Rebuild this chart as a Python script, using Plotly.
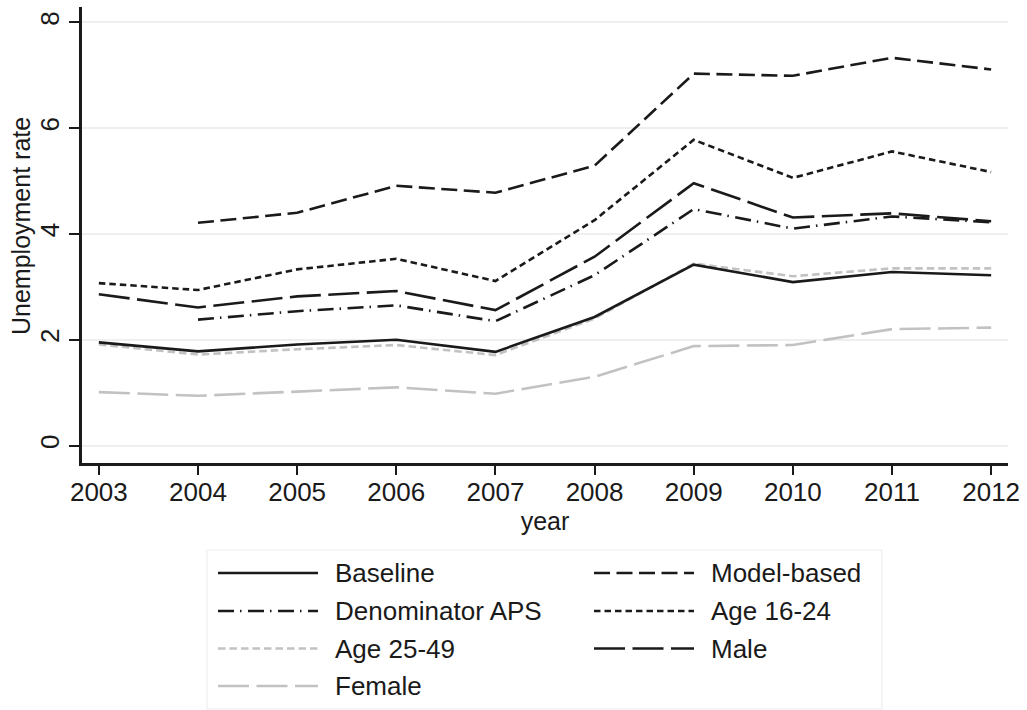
import plotly.graph_objects as go

years = [2003, 2004, 2005, 2006, 2007, 2008, 2009, 2010, 2011, 2012]
baseline = [1.95, 1.78, 1.91, 2.00, 1.77, 2.43, 3.42, 3.09, 3.28, 3.22]
model_based = [None, 4.21, 4.40, 4.91, 4.78, 5.29, 7.03, 6.99, 7.33, 7.11]
denominator_aps = [None, 2.38, 2.54, 2.65, 2.35, 3.22, 4.47, 4.10, 4.33, 4.22]
age_16_24 = [3.07, 2.94, 3.33, 3.53, 3.11, 4.26, 5.78, 5.06, 5.56, 5.17]
age_25_49 = [1.91, 1.72, 1.82, 1.90, 1.71, 2.40, 3.44, 3.20, 3.35, 3.35]
male = [2.86, 2.61, 2.82, 2.92, 2.56, 3.57, 4.96, 4.31, 4.39, 4.24]
female = [1.01, 0.94, 1.02, 1.10, 0.98, 1.30, 1.88, 1.90, 2.20, 2.23]
y_ticks = [0, 2, 4, 6, 8]

BLACK = "#1a1a1a"
GRAY = "#c2c2c2"
series = [
    ("Baseline", baseline, BLACK, "solid"),
    ("Model-based", model_based, BLACK, "16px,6.5px"),
    ("Denominator APS", denominator_aps, BLACK, "16px,6px,1.5px,6.5px"),
    ("Age 16-24", age_16_24, BLACK, "6.5px,4px"),
    ("Age 25-49", age_25_49, GRAY, "7.5px,4px"),
    ("Male", male, BLACK, "31px,7.5px"),
    ("Female", female, GRAY, "31px,7.5px"),
]

W, H = 1027, 710
L, R, T, B = 82, 1008, 7, 463
FONT = "Liberation Sans, Arial, sans-serif"
TXT = "#1a1a1a"

fig = go.Figure()
# draw grey ones first so black lines sit on top
order = [6, 4, 0, 2, 3, 5, 1]
for i in order:
    name, vals, col, dash = series[i]
    fig.add_trace(go.Scatter(x=years, y=vals, mode="lines", name=name,
                             line=dict(color=col, width=2.6, dash=dash),
                             showlegend=False, connectgaps=False))

def px(x):
    return (x - L) / (R - L)

def py(y):
    return (B - y) / (B - T)

shapes = []
annotations = []
# legend box
shapes.append(dict(type="rect", xref="paper", yref="paper",
                   x0=px(207), x1=px(882), y0=py(709), y1=py(550),
                   line=dict(color="#f2f2f2", width=1.5), fillcolor="rgba(0,0,0,0)"))
row_y = [573, 611, 648.5, 686]
col_line = [(218, 318), (594, 694)]
col_text = [333, 709]
for k, (name, vals, col, dash) in enumerate(series):
    r, c = divmod(k, 2)
    yy = row_y[r]
    shapes.append(dict(type="line", xref="paper", yref="paper",
                       x0=px(col_line[c][0]), x1=px(col_line[c][1]),
                       y0=py(yy), y1=py(yy),
                       line=dict(color=col, width=2.7, dash=dash)))
    annotations.append(dict(xref="paper", yref="paper", x=px(col_text[c]), y=py(yy),
                            text=name, showarrow=False, xanchor="left", yanchor="middle",
                            font=dict(family=FONT, size=26, color=TXT)))

# y-axis title as rotated text
annotations.append(dict(xref="paper", yref="paper", x=px(21), y=py(226),
                        text="Unemployment rate", showarrow=False, textangle=-90,
                        xanchor="center", yanchor="middle",
                        font=dict(family=FONT, size=25, color=TXT)))

fig.update_layout(
    width=W, height=H,
    margin=dict(l=L, r=W - R, t=T, b=H - B, pad=0),
    paper_bgcolor="white", plot_bgcolor="white",
    font=dict(family=FONT, size=26, color=TXT),
    shapes=shapes, annotations=annotations,
    showlegend=False,
)
fig.update_xaxes(
    range=[2002.83, 2012.17], tickmode="array", tickvals=years,
    ticktext=[str(y) for y in years],
    ticks="outside", ticklen=9, tickwidth=2.2, tickcolor=TXT,
    showline=True, linewidth=2.5, linecolor=TXT, showgrid=False, zeroline=False,
    tickfont=dict(size=26), ticklabelstandoff=-5,
    title=dict(text="year", font=dict(size=25), standoff=0),
)
fig.update_yaxes(
    range=[-0.33, 8.29], tickmode="array", tickvals=y_ticks,
    ticks="outside", ticklen=10, tickwidth=2.2, tickcolor=TXT,
    showline=True, linewidth=2.5, linecolor=TXT,
    showgrid=True, gridcolor="#eef0f0", gridwidth=2, zeroline=False,
    tickangle=-90, tickfont=dict(size=26), ticklabelstandoff=0,
)
fig.write_html("out.html", config={"displayModeBar": False})

with open("out.html", "r", encoding="utf-8") as f:
    html = f.read()
html = html.replace("<body>", "<body style=\"margin:0;padding:0;overflow:hidden\">", 1)
with open("out.html", "w", encoding="utf-8") as f:
    f.write(html)
